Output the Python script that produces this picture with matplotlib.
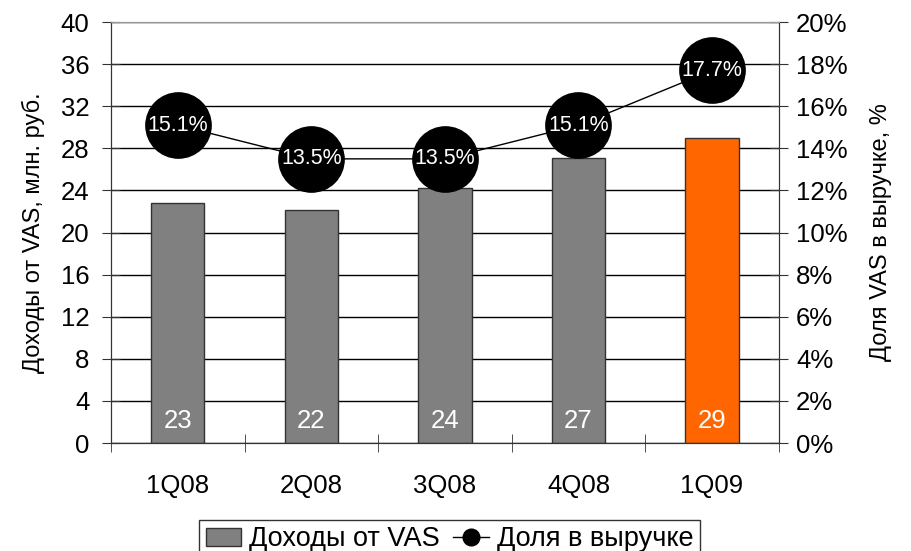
import matplotlib
matplotlib.use("Agg")
import matplotlib.pyplot as plt
from matplotlib.lines import Line2D
from matplotlib.patches import Patch

categories = ["1Q08", "2Q08", "3Q08", "4Q08", "1Q09"]
revenue = [22.8, 22.1, 24.2, 27.1, 29.0]
revenue_labels = ["23", "22", "24", "27", "29"]
share = [15.1, 13.5, 13.5, 15.1, 17.7]
share_labels = ["15.1%", "13.5%", "13.5%", "15.1%", "17.7%"]
bar_colors = ["#808080", "#808080", "#808080", "#808080", "#FF6600"]

plt.rcParams['font.family'] = ['Liberation Sans', 'DejaVu Sans']

TICK_FS = 18.5

fig = plt.figure(figsize=(9.12, 5.51), dpi=100)
ax = fig.add_axes([0.1217, 0.196, 0.7323, 0.764])
ax2 = ax.twinx()

x = list(range(len(categories)))
ax.bar(x, revenue, width=0.4, color=bar_colors, edgecolor="#333333", linewidth=1, zorder=2)
for xi, v, lab in zip(x, revenue, revenue_labels):
    ax.text(xi, 2.1, lab, ha="center", va="center", color="white", fontsize=18.5, zorder=3)

ax.set_xlim(-0.5, len(categories) - 0.5)
ax.set_ylim(0, 40)
ax.set_yticks(range(0, 41, 4))
ax.yaxis.grid(True, color="black", linewidth=1)
ax.set_axisbelow(True)
ax.set_xticks(x)
ax.set_xticklabels(categories, fontsize=TICK_FS)
ax.set_xticks([i - 0.5 for i in range(len(categories) + 1)], minor=True)
ax.tick_params(axis="x", which="major", length=0, pad=22)
ax.tick_params(axis="x", which="minor", length=13, direction="inout", color="#333333")
ax.tick_params(axis="y", labelsize=TICK_FS, length=13, direction="inout", color="#333333", pad=9)
ax.set_ylabel("Доходы от VAS, млн. руб.", fontsize=17, labelpad=11)

ax2.set_ylim(0, 20)
ax2.set_yticks(range(0, 21, 2))
ax2.set_yticklabels([f"{t}%" for t in range(0, 21, 2)])
ax2.tick_params(axis="y", labelsize=TICK_FS, length=13, direction="inout", color="#333333", pad=6)
ax2.set_ylabel("Доля VAS в выручке, %", fontsize=17, labelpad=16)
ax2.plot(x, share, color="black", linewidth=1, marker="o", markersize=47,
         markerfacecolor="black", markeredgecolor="black", zorder=4)
for xi, v, lab in zip(x, share, share_labels):
    ax2.text(xi, v, lab, ha="center", va="center", color="white", fontsize=15.5, zorder=5)

for a in (ax, ax2):
    a.spines["top"].set_color("#999999")
    a.spines["left"].set_color("#333333")
    a.spines["right"].set_color("#333333")
    a.spines["bottom"].set_color("#333333")

handles = [Patch(facecolor="#808080", edgecolor="#333333", label="Доходы от VAS"),
           Line2D([0], [0], color="black", marker="o", markersize=12, linewidth=1,
                  label="Доля в выручке")]
leg = fig.legend(handles=handles, loc="lower center", bbox_to_anchor=(0.493, -0.015), ncol=2,
                 fontsize=19.5, frameon=True, fancybox=False, edgecolor="black",
                 handlelength=1.3, handletextpad=0.3, columnspacing=0.5, borderpad=0.25,
                 borderaxespad=0)
leg.get_frame().set_linewidth(1)

fig.savefig("out.png", dpi=100)
